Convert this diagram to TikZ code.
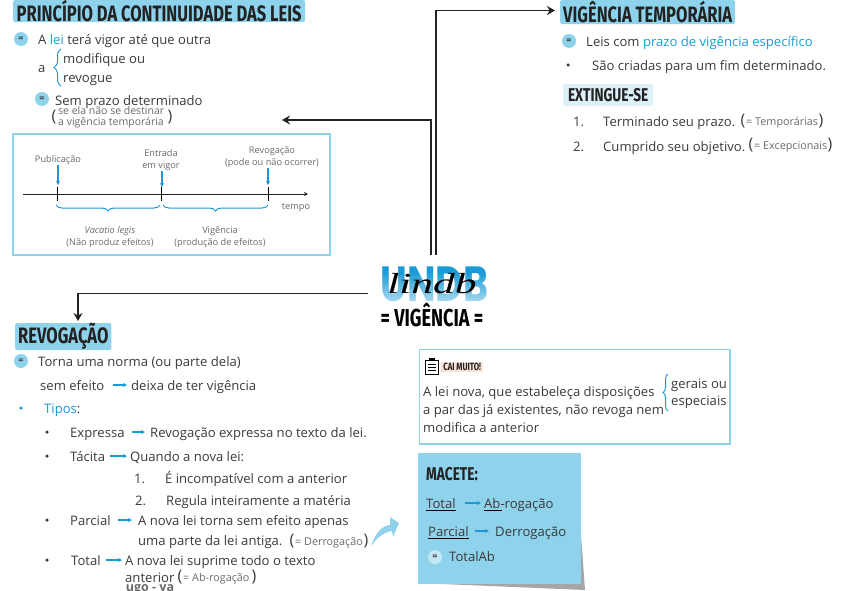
\documentclass[tikz,border=0pt]{standalone}
\usepackage{fontspec}
\setmainfont{Open Sans}
\newfontfamily\headfont[FakeStretch=0.74]{Fira Sans}
\newfontfamily\logofont{Poppins}
\newfontfamily\lindbfont[FakeStretch=1.5]{Liberation Serif}
\usepackage{tikz}
\usetikzlibrary{arrows.meta, positioning, calc, decorations.pathreplacing, fadings}
\definecolor{SkyFill}{HTML}{8ED3EB}
\definecolor{PaleFill}{HTML}{DDF0F8}
\definecolor{TermBlue}{HTML}{1A9BD7}
\definecolor{BodyInk}{HTML}{3A3A3A}
\definecolor{SoftInk}{HTML}{6A6A6A}
\definecolor{HeadInk}{HTML}{222222}
\definecolor{TagPeach}{HTML}{FBE3D6}
\tikzset{
  head/.style={anchor=west, fill=SkyFill, rounded corners=2pt, inner xsep=3pt, inner ysep=0pt, text=HeadInk, font=\headfont\bfseries\fontsize{22.3}{22.3}\selectfont},
  body/.style={anchor=west, inner sep=0pt, text=BodyInk, text height=12pt, text depth=2pt, font=\fontsize{13.1}{15}\selectfont},
  small/.style={anchor=center, inner sep=0pt, text=SoftInk, font=\fontsize{9.2}{12}\selectfont, align=center},
  tiny/.style={anchor=west, inner sep=0pt, text=SoftInk, text height=10pt, text depth=2pt, font=\fontsize{10.8}{12}\selectfont},
  paren/.style={anchor=center, inner sep=0pt, text=BodyInk, font=\fontsize{16}{16}\selectfont},
  badge/.style={circle, fill=SkyFill, inner sep=0pt, minimum size=14pt, text=BodyInk, font=\fontsize{9}{9}\selectfont\bfseries},
  dotitem/.style={circle, fill=BodyInk, inner sep=0pt, minimum size=3.5pt},
  bluearr/.style={-{Stealth[length=4pt, width=4pt]}, color=TermBlue, line width=1.1pt},
  mainarr/.style={-{Stealth[length=8pt, width=9pt]}, color=HeadInk, line width=1.8pt},
  bluebrace/.style={color=TermBlue, line width=1pt, decorate},
  framebox/.style={draw=SkyFill, line width=1.2pt}
}
\begin{document}
\begin{tikzpicture}[x=1pt, y=-1pt]
  \useasboundingbox (0,0) rectangle (841,590);

  \node[head, minimum width=292pt, minimum height=22pt] (continuidade) at (13,11) {PRINCÍPIO DA CONTINUIDADE DAS LEIS};
  \node[badge] (eqA) at (21,39) {=};
  \node[body] (leiVigor) at (38,39) {A \textcolor{TermBlue}{lei} terá vigor até que outra};
  \node[body] (letraA) at (38,67) {a};
  \draw[bluebrace, decoration={brace, amplitude=7pt}] (61,86) -- (61,49);
  \node[body] (modifique) at (63,58) {modifique ou};
  \node[body] (revogue) at (63,77) {revogue};
  \node[badge] (eqB) at (42,99) {=};
  \node[body] (semPrazo) at (55,100) {Sem prazo determinado};
  \node[paren] (parenA) at (54,117) {(};
  \node[anchor=west, inner sep=0pt, text=SoftInk, align=left, font=\fontsize{10.5}{11}\selectfont] (destinar) at (58,117) {se ela não se destinar\\a vigência temporária};
  \node[paren] (parenB) at (170,117) {)};

  \draw[framebox] (13,134) rectangle (330,255);
  \coordinate (axisStart) at (23,194);
  \coordinate (axisEnd) at (308,194);
  \draw[-{Stealth[length=4pt, width=4pt]}, color=HeadInk, line width=0.8pt] (axisStart) -- (axisEnd);
  \draw[color=black, line width=1pt] (57.5,187) -- (57.5,201);
  \draw[color=black, line width=1pt] (161.5,187) -- (161.5,201);
  \draw[color=black, line width=1pt] (268,187) -- (268,201);
  \node[small] (publicacao) at (58,160.5) {Publicação};
  \node[small] (entrada) at (161,160) {Entrada\\em vigor};
  \node[small] (revogacaoT) at (272,157) {Revogação\\(pode ou não ocorrer)};
  \coordinate (tickA) at (58,185);
  \coordinate (tickB) at (162,187);
  \coordinate (tickC) at (268,185);
  \draw[bluearr] (publicacao.south -| tickA) -- (tickA);
  \draw[bluearr] (entrada.south -| tickB) -- (tickB);
  \draw[bluearr] (revogacaoT.south -| tickC) -- (tickC);
  \node[small] (tempo) at (296,208) {tempo};
  \draw[bluebrace, decoration={brace, amplitude=6pt}] (160,205) -- (56,205);
  \draw[bluebrace, decoration={brace, amplitude=6pt}] (268,205) -- (163,205);
  \node[small] (vacatio) at (110,237.5) {\textit{Vacatio legis}\\(Não produz efeitos)};
  \node[small] (vigenciaT) at (220,237.5) {Vigência\\(produção de efeitos)};

  \node[inner sep=0pt, text=TermBlue, font=\logofont\bfseries\fontsize{38}{38}\selectfont] (logo) at (434.5,284) {\scalebox{1}[1.3]{UNDB}};
  \fill[color=white, opacity=0.65, path fading=north] (378,272) rectangle (492,303);
  \node[inner sep=0pt, text=black, font=\lindbfont\itshape\fontsize{29}{29}\selectfont] (lindb) at (432,284) {lindb};
  \node[inner sep=0pt, text=black, font=\headfont\bfseries\fontsize{24.5}{24.5}\selectfont] (vigencia) at (432,315) {= VIGÊNCIA =};

  \node[head, minimum width=171pt, minimum height=24pt] (temporaria) at (560,12) {VIGÊNCIA TEMPORÁRIA};
  \node[badge] (eqC) at (569,41) {=};
  \node[body] (leisCom) at (586,41) {Leis com \textcolor{TermBlue}{prazo de vigência específico}};
  \node[dotitem] (dotC) at (568,65) {};
  \node[body] (saoCriadas) at (592,65) {São criadas para um fim determinado.};
  \node[head, fill=PaleFill, minimum width=90pt, minimum height=22pt, font=\headfont\bfseries\fontsize{18.5}{18.5}\selectfont] (extingue) at (563,95) {EXTINGUE-SE};
  \node[body] (numA) at (573,121) {1.};
  \node[body] (terminado) at (603,121) {Terminado seu prazo.};
  \node[paren] (parenC) at (743,121) {(};
  \node[tiny] (temporarias) at (746,121) {= Temporárias};
  \node[paren] (parenD) at (821,121) {)};
  \node[body] (numB) at (573,146) {2.};
  \node[body] (cumprido) at (603,146) {Cumprido seu objetivo.};
  \node[paren] (parenE) at (751,145) {(};
  \node[tiny] (excepcionais) at (754,145) {= Excepcionais};
  \node[paren] (parenF) at (830,145) {)};

  \coordinate (trunkL) at (431,255);
  \coordinate (trunkR) at (436,255);
  \coordinate (tipL) at (282,120);
  \coordinate (tipR) at (555,10.5);
  \coordinate (trunkD) at (368,293.5);
  \coordinate (tipD) at (78,321);
  \draw[mainarr] (trunkL) |- (tipL);
  \draw[mainarr] (trunkR) |- (tipR);
  \draw[mainarr] (trunkD) -| (tipD);

  \node[head, minimum width=93pt, minimum height=27pt] (revogacao) at (15,336.5) {REVOGAÇÃO};
  \node[badge] (eqD) at (21,361) {=};
  \node[body] (tornaNorma) at (38,361) {Torna uma norma (ou parte dela)};
  \node[body] (semEfeito) at (40,385) {sem efeito};
  \node[body] (deixa) at (131,385) {deixa de ter vigência};
  \draw[bluearr] ([xshift=8pt]semEfeito.east) -- ([xshift=-4pt]deixa.west);
  \node[dotitem, fill=TermBlue] (dotTipos) at (21,408) {};
  \node[body] (tipos) at (44,408) {\textcolor{TermBlue}{Tipos}:};

  \node[dotitem] (dotA) at (47,432) {};
  \node[body] (expressa) at (70,432) {Expressa};
  \node[body] (expressaTxt) at (150,432) {Revogação expressa no texto da lei.};
  \draw[bluearr] ([xshift=7pt]expressa.east) -- ([xshift=-5pt]expressaTxt.west);

  \node[dotitem] (dotB) at (47,456) {};
  \node[body] (tacita) at (70,456) {Tácita};
  \node[body] (quando) at (130,456) {Quando a nova lei:};
  \draw[bluearr] ([xshift=5pt]tacita.east) -- ([xshift=-3pt]quando.west);
  \node[body] (numC) at (134,478) {1.};
  \node[body] (incompativel) at (165,478) {É incompatível com a anterior};
  \node[body] (numD) at (135,500) {2.};
  \node[body] (regula) at (166,500) {Regula inteiramente a matéria};

  \node[dotitem] (dotD) at (47,520) {};
  \node[body] (parcial) at (70,520) {Parcial};
  \node[body] (parcialTxt) at (138,520) {A nova lei torna sem efeito apenas};
  \draw[bluearr] ([xshift=7pt]parcial.east) -- ([xshift=-6pt]parcialTxt.west);
  \node[body] (umaParte) at (138,540) {uma parte da lei antiga.};
  \node[paren] (parenG) at (292,541) {(};
  \node[tiny] (derrogacao) at (295,541) {= Derrogação};
  \node[paren] (parenH) at (366,541) {)};

  \node[dotitem] (dotE) at (47,560) {};
  \node[body] (total) at (71,560) {Total};
  \node[body] (totalTxt) at (125,560) {A nova lei suprime todo o texto};
  \draw[bluearr] ([xshift=5pt]total.east) -- ([xshift=-3pt]totalTxt.west);
  \node[body] (anterior) at (125,577) {anterior};
  \node[paren] (parenI) at (180,577) {(};
  \node[tiny] (abrogacao) at (183,577) {= Ab-rogação};
  \node[paren] (parenJ) at (254,577) {)};
  \begin{scope}
    \clip (100,584) rectangle (200,590);
    \node[inner sep=0pt, text=SoftInk, font=\bfseries\fontsize{12.5}{12.5}\selectfont] (rodape) at (150,590) {ugo - ya};
  \end{scope}

  \fill[color=SkyFill] (371,546) .. controls (376,532) and (382,526) .. (390,525) -- (390,517) -- (399,523) -- (393,537) -- (392,531) .. controls (384,532) and (378,537) .. (371,546) -- cycle;

  \draw[framebox] (419.5,349.5) rectangle (730,444);
  \draw[color=black, line width=1pt, fill=white] (425.5,360) rectangle (438.5,374);
  \fill[color=black] (429,358) rectangle (435,361);
  \draw[color=black, line width=0.6pt] (428,364) -- (436,364);
  \draw[color=black, line width=0.6pt] (428,367) -- (436,367);
  \draw[color=black, line width=0.6pt] (428,370) -- (436,370);
  \node[anchor=west, fill=TagPeach, inner xsep=1pt, inner ysep=1pt, minimum width=42pt, minimum height=10pt, text=HeadInk, font=\headfont\bfseries\fontsize{10.5}{10.5}\selectfont] (caiMuito) at (441,367) {CAI MUITO!};
  \node[body] (leiNova) at (423,391) {A lei nova, que estabeleça disposições};
  \node[body] (aPar) at (423,409) {a par das já existentes, não revoga nem};
  \node[body] (modifica) at (423,427) {modifica a anterior};
  \draw[bluebrace, decoration={brace, amplitude=5pt}] (668,411) -- (668,374);
  \node[body] (gerais) at (671,383) {gerais ou};
  \node[body] (especiais) at (671,400) {especiais};

  \fill[color=black!35] (418,583) -- (585,590) -- (581,535) -- cycle;
  \fill[color=SkyFill] (418,453) rectangle (581,584);
  \node[anchor=west, inner sep=0pt, text=HeadInk, font=\headfont\bfseries\fontsize{18.5}{18.5}\selectfont] (macete) at (426,474) {MACETE:};
  \node[body] (totalM) at (426,503) {Total};
  \node[body] (abM) at (484,503) {Ab-rogação};
  \draw[bluearr] ([xshift=9pt]totalM.east) -- ([xshift=-3pt]abM.west);
  \draw[color=black, line width=1pt] (totalM.south west) -- (totalM.south east);
  \draw[color=black, line width=1pt] (abM.south west) -- ([xshift=18pt]abM.south west);
  \node[body] (parcialM) at (428,531) {Parcial};
  \node[body] (derrogM) at (495,531) {Derrogação};
  \draw[bluearr] ([xshift=6pt]parcialM.east) -- ([xshift=-6pt]derrogM.west);
  \draw[color=black, line width=1pt] (parcialM.south west) -- (parcialM.south east);
  \node[badge, fill=PaleFill!70!SkyFill] (eqE) at (435,557) {=};
  \node[body] (totalAb) at (449,556) {TotalAb};
\end{tikzpicture}
\end{document}
